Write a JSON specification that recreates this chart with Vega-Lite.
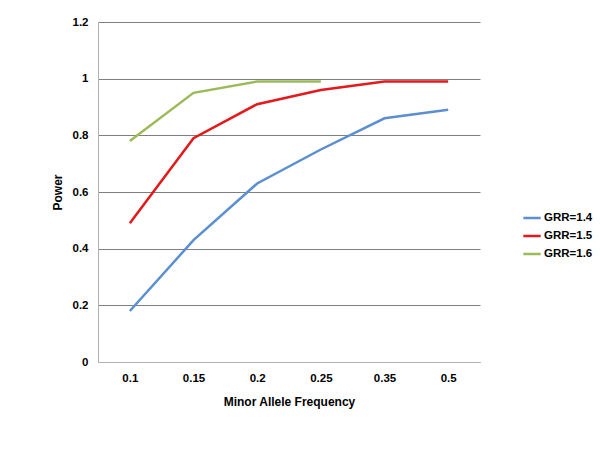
{
  "$schema": "https://vega.github.io/schema/vega-lite/v6.json",
  "width": 382,
  "height": 340,
  "autosize": {"type": "none"},
  "padding": {"left": 98, "top": 22, "right": 120, "bottom": 88},
  "background": "white",
  "data": {"values": [
    {"maf": "0.1", "series": "GRR=1.4", "power": 0.18},
    {"maf": "0.15", "series": "GRR=1.4", "power": 0.43},
    {"maf": "0.2", "series": "GRR=1.4", "power": 0.63},
    {"maf": "0.25", "series": "GRR=1.4", "power": 0.75},
    {"maf": "0.35", "series": "GRR=1.4", "power": 0.86},
    {"maf": "0.5", "series": "GRR=1.4", "power": 0.89},
    {"maf": "0.1", "series": "GRR=1.5", "power": 0.49},
    {"maf": "0.15", "series": "GRR=1.5", "power": 0.79},
    {"maf": "0.2", "series": "GRR=1.5", "power": 0.91},
    {"maf": "0.25", "series": "GRR=1.5", "power": 0.96},
    {"maf": "0.35", "series": "GRR=1.5", "power": 0.99},
    {"maf": "0.5", "series": "GRR=1.5", "power": 0.99},
    {"maf": "0.1", "series": "GRR=1.6", "power": 0.78},
    {"maf": "0.15", "series": "GRR=1.6", "power": 0.95},
    {"maf": "0.2", "series": "GRR=1.6", "power": 0.99},
    {"maf": "0.25", "series": "GRR=1.6", "power": 0.99}
  ]},
  "config": {
    "view": {"stroke": null},
    "font": "Liberation Sans"
  },
  "mark": {"type": "line", "strokeWidth": 2.5},
  "encoding": {
    "x": {
      "field": "maf", "type": "ordinal", "sort": null,
      "scale": {"paddingInner": 0, "paddingOuter": 0.5},
      "axis": {
        "title": "Minor Allele Frequency",
        "labelAngle": 0, "labelFont": "Liberation Sans", "labelFontWeight": "bold", "labelFontSize": 11.5, "labelColor": "black",
        "labelPadding": 10,
        "titleFont": "Liberation Sans", "titleFontWeight": "bold", "titleFontSize": 12, "titleColor": "black", "titlePadding": 13,
        "ticks": false, "domainColor": "#b0b0b0", "domainWidth": 1
      }
    },
    "y": {
      "field": "power", "type": "quantitative",
      "scale": {"domain": [0, 1.2]},
      "axis": {
        "title": "Power", "values": [0, 0.2, 0.4, 0.6, 0.8, 1, 1.2], "format": "~g",
        "labelFont": "Liberation Sans", "labelFontWeight": "bold", "labelFontSize": 11.5, "labelColor": "black",
        "labelPadding": 10,
        "titleFont": "Liberation Sans", "titleFontWeight": "bold", "titleFontSize": 12, "titleColor": "black", "titlePadding": 8,
        "ticks": false, "domain": true, "domainColor": "#b0b0b0", "domainWidth": 1,
        "grid": true, "gridColor": "#7f7f7f", "gridWidth": 1
      }
    },
    "color": {
      "field": "series", "type": "nominal",
      "scale": {"domain": ["GRR=1.4", "GRR=1.5", "GRR=1.6"], "range": ["#5b8fd0", "#e3191b", "#9bbb59"]},
      "legend": {
        "title": null, "orient": "none", "legendX": 424, "legendY": 186,
        "symbolType": "stroke", "symbolStrokeWidth": 2.5, "symbolSize": 300,
        "labelFont": "Liberation Sans", "labelFontWeight": "bold", "labelFontSize": 11.5, "labelColor": "black",
        "labelOffset": 2, "rowPadding": 2
      }
    }
  }
}
